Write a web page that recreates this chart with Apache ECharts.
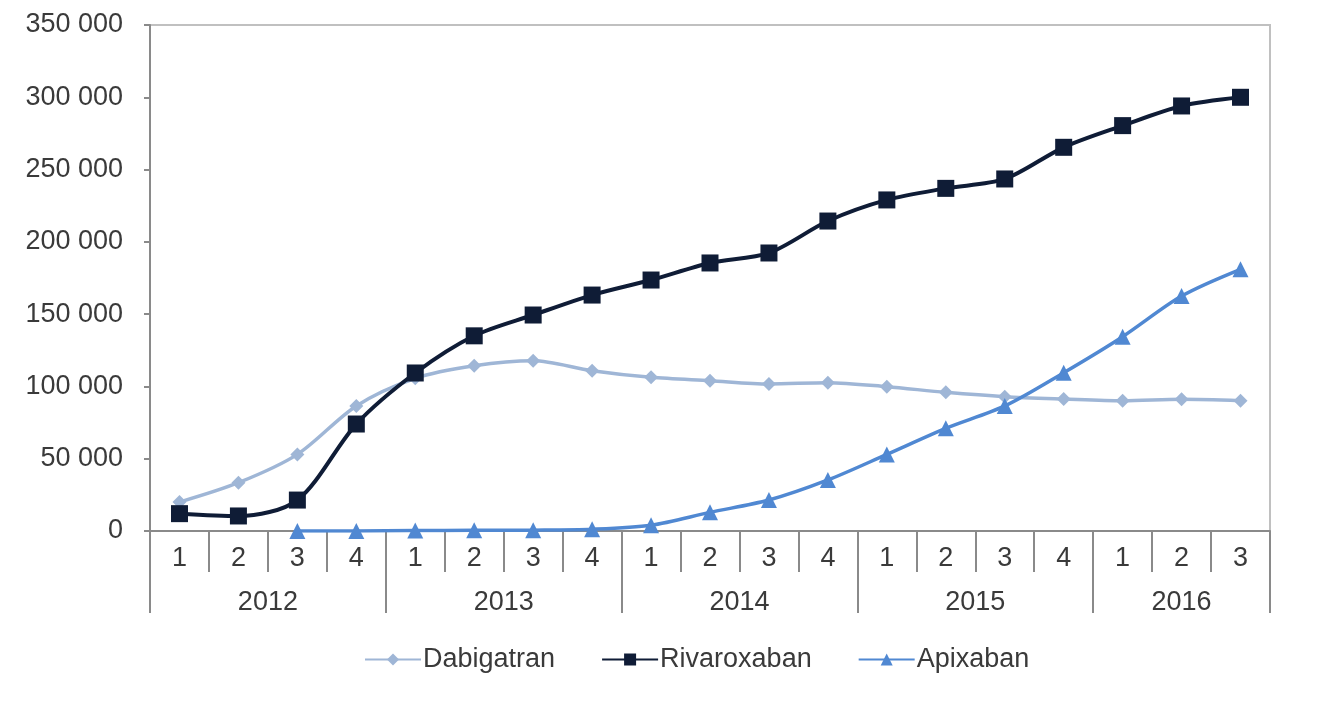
<!DOCTYPE html>
<html>
<head>
<meta charset="utf-8">
<script src="https://cdn.jsdelivr.net/npm/echarts@6/dist/echarts.min.js"></script>
<style>
  html, body { margin: 0; padding: 0; background: #ffffff; }
  #chart { width: 1334px; height: 718px; }
</style>
</head>
<body>
<div id="chart"></div>
<script>
// Quarterly patients, 2012 Q1 – 2016 Q3
const quarterLabels = ['1','2','3','4','1','2','3','4','1','2','3','4','1','2','3','4','1','2','3'];
const yearLabels = ['2012', '2013', '2014', '2015', '2016'];
const quartersPerYear = [4, 4, 4, 4, 3];

const dabigatran = [20000, 33400, 53000, 86500, 105600, 114300, 117800, 110900, 106300, 104000, 101700, 102600, 99800, 95900, 92900, 91300, 90100, 91100, 90100];
const rivaroxaban = [12000, 10400, 21400, 74000, 109300, 135000, 149400, 163200, 173600, 185400, 192300, 214400, 229000, 237000, 243500, 265400, 280400, 294000, 300000];
const apixaban = [null, null, 0, 0, 300, 500, 600, 1200, 4000, 12900, 21400, 35300, 53000, 71000, 86500, 109500, 134400, 162500, 181000];

const yTicks = { min: 0, max: 350000, step: 50000 };

// year boundaries and year-label centres on a 0..N band scale
const yearBounds = [0];
quartersPerYear.forEach(n => yearBounds.push(yearBounds[yearBounds.length - 1] + n));
const yearCentres = yearLabels.map((_, i) => (yearBounds[i] + yearBounds[i + 1]) / 2);

const textColor = '#3a3a3a';
const axisColor = '#8a8a8a';
const font = 'Liberation Sans, Arial, sans-serif';
const fontSize = 27;

const chart = echarts.init(document.getElementById('chart'), null, { renderer: 'canvas' });

chart.setOption({
  animation: false,
  backgroundColor: '#ffffff',
  grid: {
    left: 150, right: 64, top: 25, bottom: 187,
    show: true, borderColor: '#c0c0c0', borderWidth: 2
  },
  legend: {
    bottom: 40,
    left: 359,
    itemWidth: 56,
    itemHeight: 15,
    itemGap: 46,
    textStyle: { color: textColor, fontSize: fontSize, fontFamily: font, padding: [0, 0, 0, -3] },
    data: ['Dabigatran', 'Rivaroxaban', 'Apixaban']
  },
  xAxis: [
    {
      type: 'category',
      data: quarterLabels,
      boundaryGap: true,
      axisLine: { show: true, lineStyle: { color: axisColor, width: 2 } },
      axisTick: { show: true, interval: 0, length: 41, lineStyle: { color: axisColor, width: 2 } },
      axisLabel: { interval: 0, margin: 14, color: textColor, fontSize: fontSize, fontFamily: font },
      splitLine: { show: false }
    },
    {
      type: 'value',
      position: 'bottom',
      min: 0,
      max: yearBounds[yearBounds.length - 1],
      axisLine: { show: false },
      axisTick: { show: true, length: 82, customValues: yearBounds, lineStyle: { color: axisColor, width: 2 } },
      axisLabel: {
        customValues: yearCentres,
        margin: 58,
        color: textColor, fontSize: fontSize, fontFamily: font,
        formatter: v => yearLabels[yearCentres.indexOf(v)] || ''
      },
      splitLine: { show: false }
    }
  ],
  yAxis: {
    type: 'value',
    min: yTicks.min,
    max: yTicks.max,
    interval: yTicks.step,
    axisLine: { show: true, lineStyle: { color: axisColor, width: 2 } },
    axisTick: { show: true, length: 6, lineStyle: { color: axisColor, width: 2 } },
    splitLine: { show: false },
    axisLabel: {
      margin: 27,
      color: textColor, fontSize: fontSize, fontFamily: font,
      formatter: v => String(v).replace(/\B(?=(\d{3})+(?!\d))/g, ' ')
    }
  },
  series: [
    {
      name: 'Dabigatran', type: 'line', data: dabigatran, smooth: 0.3,
      symbol: 'diamond', symbolSize: 14,
      lineStyle: { color: '#9fb6d6', width: 3.5 },
      itemStyle: { color: '#9fb6d6' }
    },
    {
      name: 'Rivaroxaban', type: 'line', data: rivaroxaban, smooth: 0.3,
      symbol: 'rect', symbolSize: 17,
      lineStyle: { color: '#0f1c36', width: 4 },
      itemStyle: { color: '#0f1c36' }
    },
    {
      name: 'Apixaban', type: 'line', data: apixaban, smooth: 0.3,
      symbol: 'triangle', symbolSize: 16,
      lineStyle: { color: '#5088d2', width: 3.5 },
      itemStyle: { color: '#5088d2' }
    }
  ]
});
</script>
</body>
</html>
